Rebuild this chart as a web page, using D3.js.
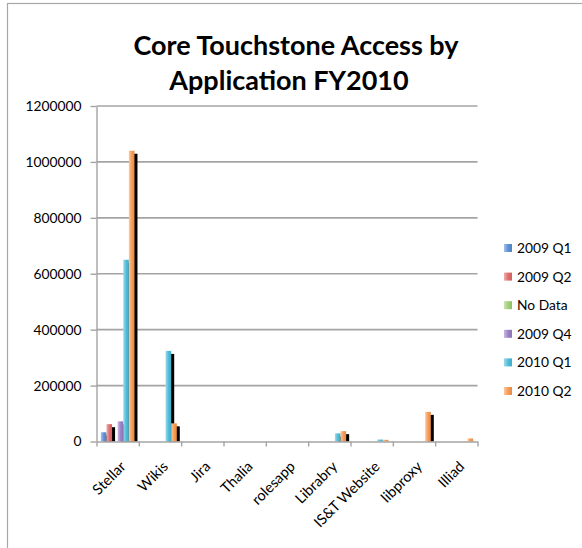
<!DOCTYPE html>
<html>
<head>
<meta charset="utf-8">
<script src="https://cdn.jsdelivr.net/npm/d3@7/dist/d3.min.js"></script>
<style>
  html, body { margin: 0; padding: 0; background: #fff; }
  svg { display: block; font-family: Lato, "Open Sans", sans-serif; }
</style>
</head>
<body>
<svg id="chart" width="582" height="548"></svg>
<script>
const categories = ["Stellar", "Wikis", "Jira", "Thalia", "rolesapp", "Librabry", "IS&T Website", "libproxy", "Illiad"];
const seriesNames = ["2009 Q1", "2009 Q2", "No Data", "2009 Q4", "2010 Q1", "2010 Q2"];
const q1_2009 = [33000, 0, 0, 0, 0, 0, 0, 0, 0];
const q2_2009 = [62000, 0, 0, 0, 0, 0, 0, 0, 0];
const noData  = [0, 0, 0, 0, 0, 0, 0, 0, 0];
const q4_2009 = [72000, 0, 0, 0, 0, 0, 0, 0, 0];
const q1_2010 = [650000, 324000, 0, 0, 0, 29000, 7000, 0, 0];
const q2_2010 = [1040000, 65000, 0, 0, 0, 37000, 6000, 106000, 11000];
const yTicks = [0, 200000, 400000, 600000, 800000, 1000000, 1200000];
const seriesColors = ["#5b8fd6", "#e06b6b", "#9fce76", "#9b80c6", "#4cbcd8", "#f79a52"];
const titleLines = ["Core Touchstone Access by", "Application FY2010"];

const seriesValues = [q1_2009, q2_2009, noData, q4_2009, q1_2010, q2_2010];

const svg = d3.select("#chart");
const plotLeft = 96.5, plotRight = 477.5, plotTop = 106, plotBottom = 441.5;

// frame
svg.append("rect").attr("x", 7.5).attr("y", 3.5).attr("width", 700).attr("height", 700)
  .attr("fill", "none").attr("stroke", "#a8a8a8").attr("stroke-width", 1.2);

// gradients
const defs = svg.append("defs");
seriesColors.forEach((c, i) => {
  const g = defs.append("linearGradient").attr("id", "grad" + i)
    .attr("x1", 0).attr("x2", 1).attr("y1", 0).attr("y2", 0);
  g.append("stop").attr("offset", 0).attr("stop-color", d3.interpolateRgb(c, "#fff")(0.45));
  g.append("stop").attr("offset", 0.55).attr("stop-color", c);
  g.append("stop").attr("offset", 1).attr("stop-color", d3.color(c).darker(0.25));
});

const x = d3.scaleBand().domain(categories).range([plotLeft, plotRight]).paddingInner(0.206).paddingOuter(0.103);
const xs = d3.scaleBand().domain(seriesNames).range([0, x.bandwidth()]);
const y = d3.scaleLinear().domain([0, 1200000]).range([plotBottom, plotTop]);
const boundary = d3.scaleLinear().domain([0, categories.length]).range([plotLeft, plotRight]);

// gridlines
svg.append("g").selectAll("line").data(yTicks.filter(d => d > 0)).join("line")
  .attr("x1", plotLeft).attr("x2", plotRight)
  .attr("y1", d => y(d)).attr("y2", d => y(d))
  .attr("stroke", "#a4a4a4").attr("stroke-width", 1.6);

// y axis
const yAxis = svg.append("g").attr("transform", `translate(${plotLeft},0)`)
  .call(d3.axisLeft(y).tickValues(yTicks).tickFormat(d3.format("d")).tickSize(6).tickPadding(9).tickSizeOuter(0));
yAxis.select(".domain").attr("stroke", "#a4a4a4").attr("stroke-width", 1.4);
yAxis.selectAll(".tick line").attr("stroke", "#a4a4a4").attr("stroke-width", 1.4);
yAxis.selectAll(".tick text").attr("fill", "#000").attr("font-family", "Lato, sans-serif").attr("font-size", 14);

// bars
const groups = svg.append("g").selectAll("g").data(categories).join("g")
  .attr("transform", d => `translate(${x(d)},0)`);
groups.each(function(cat, ci) {
  const g = d3.select(this);
  seriesNames.forEach((s, si) => {
    const v = seriesValues[si][ci];
    if (v <= 0) return;
    const bx = xs(s), by = y(v), bh = plotBottom - y(v);
    g.append("rect").attr("x", bx + 3).attr("y", by + 3)
      .attr("width", xs.bandwidth()).attr("height", Math.max(0, bh - 3))
      .attr("fill", "#000");
    g.append("rect").attr("x", bx).attr("y", by)
      .attr("width", xs.bandwidth()).attr("height", bh)
      .attr("fill", `url(#grad${si})`);
  });
});

// x axis
const xAxis = svg.append("g").attr("transform", `translate(0,${plotBottom})`)
  .call(d3.axisBottom(boundary).tickValues(d3.range(categories.length + 1)).tickFormat("").tickSize(5).tickSizeOuter(0));
xAxis.select(".domain").attr("stroke", "#a4a4a4").attr("stroke-width", 1.4);
xAxis.selectAll(".tick line").attr("stroke", "#a4a4a4").attr("stroke-width", 1.4);

// x labels
const xl = svg.append("g").selectAll("text").data(categories).join("text")
  .attr("transform", d => `translate(${x(d) + x.bandwidth() / 2 + 9},${plotBottom + 26}) rotate(-45)`)
  .attr("text-anchor", "end").attr("font-size", 14).attr("fill", "#000")
  .text(d => d);

// legend
const lg = svg.append("g").selectAll("g").data(seriesNames).join("g")
  .attr("transform", (d, i) => `translate(504,${248 + i * 28.6})`);
lg.append("rect").attr("x", 0).attr("y", -4).attr("width", 8).attr("height", 8)
  .attr("fill", (d, i) => `url(#grad${i})`);
lg.append("text").attr("x", 13).attr("dy", "0.36em").attr("font-size", 14).attr("fill", "#000").text(d => d);

// title
const t1 = svg.append("text").attr("x", 296).attr("y", 55).attr("text-anchor", "middle")
  .attr("font-weight", "bold").attr("font-size", 26).attr("fill", "#000").text(titleLines[0]);
const t2 = svg.append("text").attr("x", 289).attr("y", 90).attr("text-anchor", "middle")
  .attr("font-weight", "bold").attr("font-size", 26).attr("fill", "#000").text(titleLines[1]);

// fit font sizes to reference widths
function fitSize(node, target) {
  const w = node.getComputedTextLength();
  return parseFloat(node.getAttribute("font-size")) * target / w;
}
const tfs = fitSize(t1.node(), 325);
t1.attr("font-size", tfs); t2.attr("font-size", tfs);
const yLabel = yAxis.selectAll(".tick text").filter(d => d === 1200000).node();
const lfs = fitSize(yLabel, 56);
yAxis.selectAll(".tick text").attr("font-size", lfs);
lg.selectAll("text").attr("font-size", lfs);
const xlNode = xl.filter(d => d === "IS&T Website").node();
const xfs = fitSize(xlNode, 86);
xl.attr("font-size", xfs);
</script>
</body>
</html>
